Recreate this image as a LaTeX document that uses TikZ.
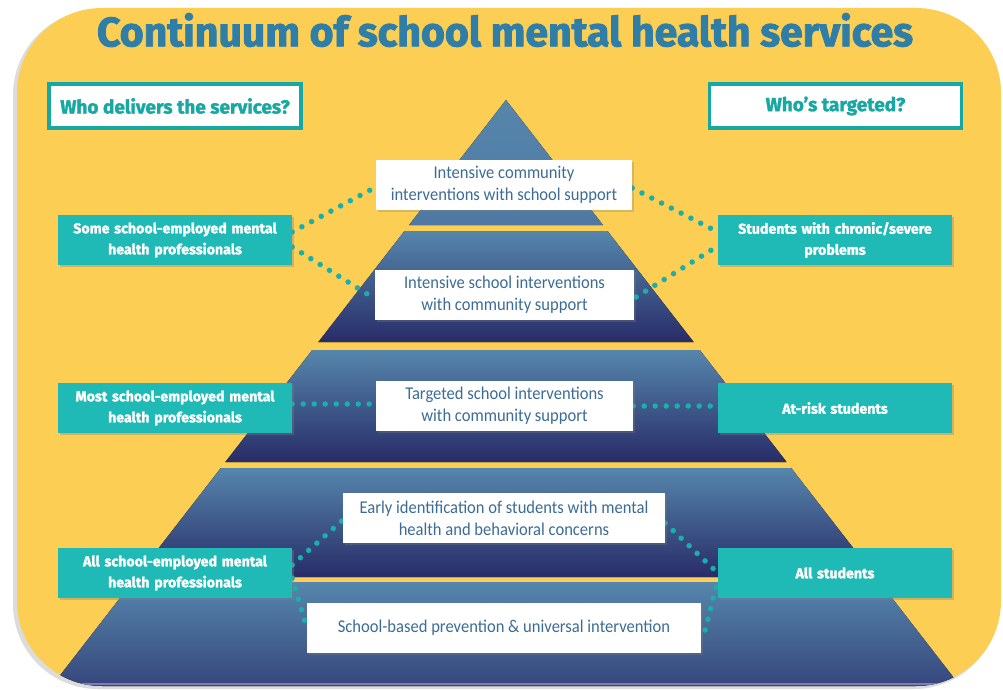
\documentclass[tikz,border=0pt]{standalone}
\usepackage{fontspec}
\setmainfont{Carlito}
\newfontfamily\boxfont{Carlito}[FakeStretch=0.92]
\newfontfamily\heavyfont{Fira Sans}[BoldFeatures={FakeBold=1.6}]
\newfontfamily\titlefont{Fira Sans}[BoldFeatures={FakeBold=2.2}]
\usetikzlibrary{shadows,calc}
\definecolor{bgyellow}{RGB}{252,206,84}
\definecolor{tealbox}{RGB}{32,186,182}
\definecolor{titleblue}{RGB}{46,126,168}
\definecolor{pyrtop}{RGB}{86,134,172}
\definecolor{pyrbot}{RGB}{40,44,104}
\definecolor{wtext}{RGB}{60,108,150}
\definecolor{hdrteal}{RGB}{22,168,162}
\definecolor{dotteal}{RGB}{24,176,170}
\pgfdeclarelayer{bg}
\pgfsetlayers{bg,main}
\tikzset{
  hdrbox/.style={draw=hdrteal, line width=3.5pt, fill=white, minimum width=252pt, minimum height=44pt,
    inner sep=0pt, font=\heavyfont\bfseries\fontsize{19}{22}\selectfont, text=hdrteal,
    drop shadow={shadow xshift=1.5pt, shadow yshift=-2pt, opacity=0.35}},
  tealnode/.style={fill=tealbox, minimum width=234pt, minimum height=50pt, text width=226pt, align=center,
    inner sep=0pt, text=white, font=\heavyfont\bfseries\fontsize{14.2}{21}\selectfont,
    drop shadow={shadow xshift=1.5pt, shadow yshift=-2pt, opacity=0.35}},
  wnode/.style={fill=white, minimum height=50pt, align=center, inner sep=0pt, text=wtext,
    font=\boxfont\fontsize{18}{22}\selectfont,
    drop shadow={shadow xshift=1.5pt, shadow yshift=-2pt, opacity=0.3}},
  dots/.style={draw=dotteal, line width=5.5pt, line cap=round, dash pattern=on 0pt off 11pt},
  band/.style={top color=pyrtop, bottom color=pyrbot, draw=none}
}
\begin{document}
\begin{tikzpicture}[x=1pt,y=-1pt]
\useasboundingbox (0,0) rectangle (1003,690);
\begin{pgfonlayer}{bg}
\fill[white] (0,0) rectangle (1003,690);
\fill[black!30, opacity=0.45, rounded corners=85pt] (13,10) rectangle (999,689);
\fill[bgyellow, rounded corners=85pt] (17,8) rectangle (1001,686);
\begin{scope}
  \clip[rounded corners=85pt] (17,8) rectangle (1001,686);
  \fill[top color=pyrtop, bottom color=pyrtop!85!pyrbot] (506,100) -- (602.9,225) -- (409.1,225) -- cycle;
  \fill[band] (404.5,231) -- (607.5,231) -- (693.6,342) -- (318.4,342) -- cycle;
  \fill[band] (312.25,350) -- (699.75,350) -- (786.6,462) -- (225.4,462) -- cycle;
  \fill[band] (220.8,468) -- (791.2,468) -- (875.7,577) -- (136.3,577) -- cycle;
  \fill[top color=pyrtop, bottom color=pyrbot!80!pyrtop] (132.4,582) -- (879.6,582) -- (971,700) -- (41,700) -- cycle;
  \draw[line width=2pt, color={rgb,255:red,150;green,150;blue,215}, opacity=0.7] (60,684) -- (950,684);
\end{scope}
\end{pgfonlayer}

\node[font=\titlefont\bfseries\fontsize{41}{44}\selectfont, text=titleblue] (title) at (505,30) {Continuum of school mental health services};

\node[hdrbox] (hdrL) at (175,106) {Who delivers the services?};
\node[hdrbox] (hdrR) at (835.5,106) {Who’s targeted?};

\node[tealnode] (t1L) at (175,240) {Some school-employed mental\\health professionals};
\node[tealnode] (t1R) at (835,240) {Students with chronic/severe\\problems};
\node[tealnode] (t2L) at (175,408) {Most school-employed mental\\health professionals};
\node[tealnode] (t2R) at (835,408) {At-risk students};
\node[tealnode] (t3L) at (175,573) {All school-employed mental\\health professionals};
\node[tealnode] (t3R) at (835,573) {All students};

\node[wnode, minimum width=256pt] (w1) at (504,185) {Intensive community\\interventions with school support};
\node[wnode, minimum width=259pt] (w2) at (504.5,295) {Intensive school interventions\\with community support};
\node[wnode, minimum width=257pt] (w3) at (504.5,406) {Targeted school interventions\\with community support};
\node[wnode, minimum width=322pt] (w4) at (504,518) {Early identification of students with mental\\health and behavioral concerns};
\node[wnode, minimum width=394pt] (w5) at (504,628) {School-based prevention \& universal intervention};

\begin{pgfonlayer}{bg}
\draw[dots] ([yshift=8pt]t1L.east) -- ([yshift=-2pt]w1.west);
\draw[dots] ([yshift=-7pt]t1L.east) -- ([xshift=-6pt]w2.west);
\draw[dots] ([yshift=-3pt]w1.east) -- ([yshift=8pt]t1R.west);
\draw[dots] ([xshift=2pt,yshift=-2pt]w2.east) -- ([yshift=-6pt]t1R.west);
\draw[dots] ([yshift=4pt]t2L.east) -- ([yshift=2pt]w3.west);
\draw[dots] (w3.east) -- ([yshift=2pt]t2R.west);
\draw[dots] ([yshift=8pt]t3L.east) -- ([yshift=-2pt]w4.west);
\draw[dots] ([yshift=-5pt]t3L.east) -- (w5.west);
\draw[dots] ([yshift=-5pt]w4.east) -- (t3R.west);
\draw[dots] ([xshift=4pt,yshift=-2pt]w5.east) -- ([yshift=-7pt]t3R.west);
\end{pgfonlayer}
\end{tikzpicture}
\end{document}
